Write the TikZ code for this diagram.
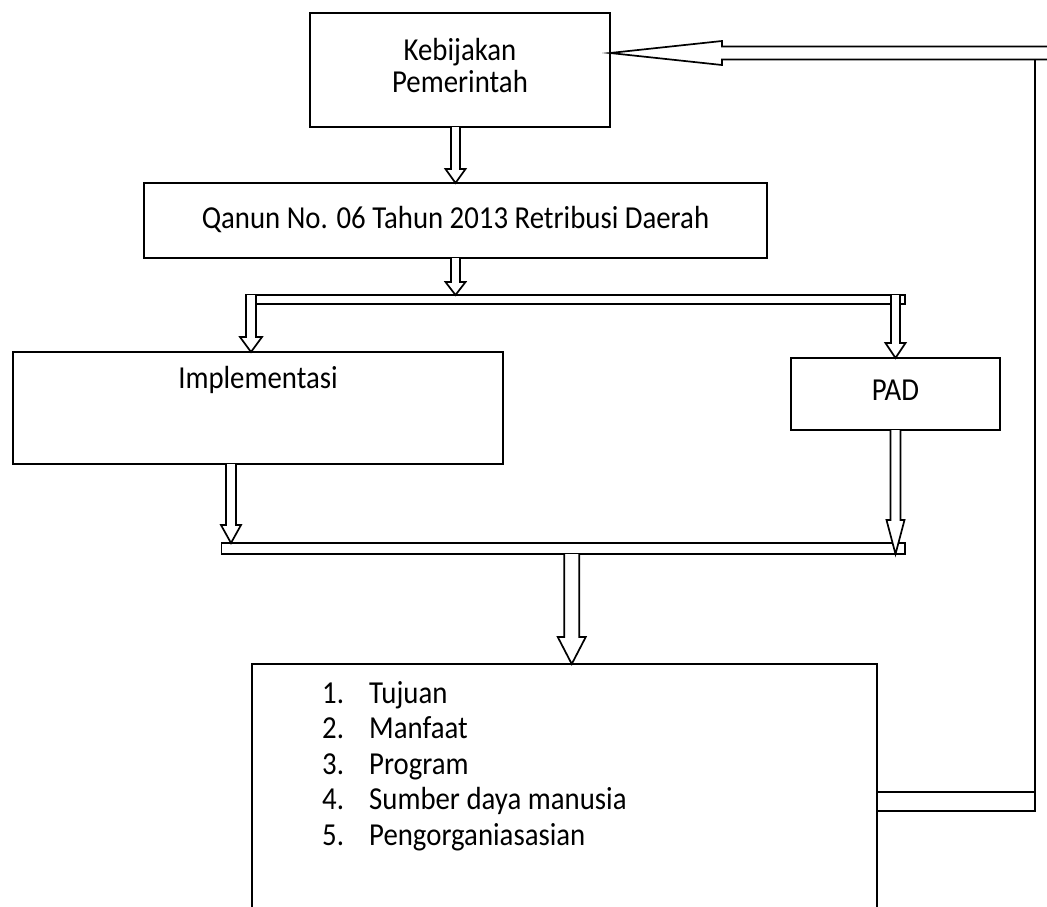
\documentclass[tikz,border=0pt]{standalone}
\usepackage{fontspec}
\setmainfont{Carlito}[FakeStretch=0.9]
\usetikzlibrary{calc}
\tikzset{
  box/.style={draw, line width=1.7pt, outer sep=0pt, inner sep=0pt, anchor=north west, fill=white},
  blk/.style={draw, line width=1.7pt, fill=white, line join=miter},
  lbl/.style={inner sep=0pt, font=\fontsize{32}{32}\selectfont, align=center},
  itm/.style={inner sep=0pt, font=\fontsize{32}{35}\selectfont, anchor=base west},
  wire/.style={line width=1.7pt}
}
\newcommand\varrow[5]{%
  \draw[blk] ($(#1)+(-#3,0)$) -- ($(#2)+(-#3,-#5)$) -- ($(#2)+(-#4,-#5)$) -- (#2) -- ($(#2)+(#4,-#5)$) -- ($(#2)+(#3,-#5)$) -- ($(#1)+(#3,0)$);}
\begin{document}
\begin{tikzpicture}[x=1pt,y=-1pt]
\clip (0,0) rectangle (1047,906);
\fill[white] (0,0) rectangle (1047,906);
% boxes
\node[box, minimum width=300pt, minimum height=114pt] (keb) at (310,13) {};
\node[box, minimum width=623pt, minimum height=75pt] (qan) at (144,183) {};
\node[box, minimum width=659pt, minimum height=9pt] (bus1) at (246,295) {};
\node[box, minimum width=490pt, minimum height=112pt] (imp) at (13,352) {};
\node[box, minimum width=209pt, minimum height=72pt] (pad) at (791,358) {};
\node[box, minimum width=683.5pt, minimum height=11pt] (bus2) at (221.5,543) {};
\node[box, minimum width=625pt, minimum height=300pt] (lst) at (252,664) {};
% texts
\node[lbl] (kebt) at ($(keb.center)+(0,-4)$) {Kebijakan\\Pemerintah};
\node[lbl] (qant) at ($(qan.center)+(0,-1)$) {Qanun No. 06 Tahun 2013 Retribusi Daerah};
\node[lbl] (impt) at ($(imp.north)+(0,28)$) {Implementasi};
\node[lbl] (padt) at ($(pad.center)+(0,-4)$) {PAD};
\foreach \n/\t [count=\k] in {1/Tujuan, 2/Manfaat, 3/Program, 4/Sumber daya manusia, 5/Pengorganiasasian}
  \node[itm] (li\k) at ($(lst.north west)+(70,39+35.5*\k-35.5)$) {\makebox[47pt][l]{\n.}\t};
% block arrows
\coordinate (a1) at (keb.south -| qan.north);
\varrow{a1}{qan.north}{4.5}{10}{14}
\coordinate (a2) at (qan.south |- bus1.north);
\varrow{qan.south}{a2}{4.5}{10}{13}
\coordinate (a3s) at ($(bus1.north west)+(5,0)$);
\coordinate (a3e) at (a3s |- imp.north);
\varrow{a3s}{a3e}{5}{11}{15}
\coordinate (a4s) at (pad.north |- bus1.north);
\varrow{a4s}{pad.north}{4.5}{10}{15}
\coordinate (a5e) at ($(bus2.north west)+(9.5,0)$);
\coordinate (a5s) at (a5e |- imp.south);
\varrow{a5s}{a5e}{5}{10}{18}
\coordinate (a6e) at (pad.south |- bus2.south);
\varrow{pad.south}{a6e}{5}{9}{34}
\coordinate (a7s) at ($(bus2.south)+(8.5,0)$);
\coordinate (a7e) at (a7s |- lst.north);
\varrow{a7s}{a7e}{7.5}{14}{27}
% feedback arrow
\coordinate (fbR) at (1060,53);
\coordinate (fbT) at (keb.east |- fbR);
\draw[blk] ($(fbR)+(0,-6.5)$) -- ($(fbT)+(112,-6.5)$) -- ($(fbT)+(112,-12)$) -- (fbT) -- ($(fbT)+(112,12)$) -- ($(fbT)+(112,6.5)$) -- ($(fbR)+(0,6.5)$);
\coordinate (vt) at (1035,59.5);
\coordinate (vb) at (1035,811);
\coordinate (vu) at (1035,792);
\draw[wire] (vt) -- (vb) -- (vb -| lst.east);
\draw[wire] (vu) -- (vu -| lst.east);
\end{tikzpicture}
\end{document}
